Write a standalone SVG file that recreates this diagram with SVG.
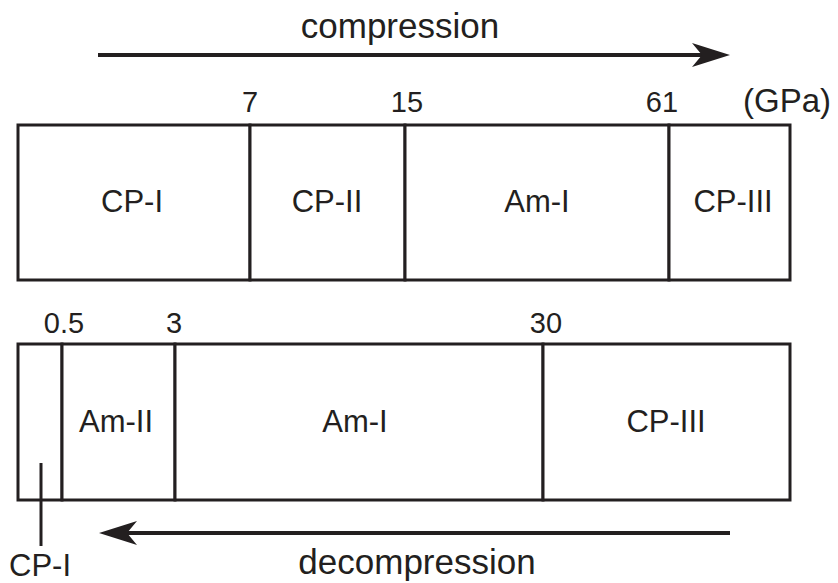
<svg xmlns="http://www.w3.org/2000/svg" width="838" height="583" viewBox="0 0 838 583">
<style>
  .cell { fill: #ffffff; stroke: #231f20; stroke-width: 3; }
  .lbl { font-family: "Liberation Sans", Arial, sans-serif; font-size: 31px; fill: #231f20; text-anchor: middle; }
  .num { font-family: "Liberation Sans", Arial, sans-serif; font-size: 29px; fill: #231f20; text-anchor: middle; }
  .dir { font-family: "Liberation Sans", Arial, sans-serif; font-size: 35px; fill: #231f20; text-anchor: middle; }
  .arrow { stroke: #231f20; stroke-width: 4; fill: none; }
  .lead { stroke: #231f20; stroke-width: 3; fill: none; }
</style>
<defs>
  <marker id="head" markerUnits="userSpaceOnUse" markerWidth="38" markerHeight="24" viewBox="0 0 38 24" refX="10" refY="12" orient="auto">
    <path d="M0,0 L38,12 L0,24 L10,12 Z" fill="#231f20"/>
  </marker>
</defs>
<rect width="838" height="583" fill="#ffffff"/>

<!-- top row: compression -->
<g id="top-cp1"><rect class="cell" x="18" y="125" width="232" height="155"/><text class="lbl" x="132" y="212">CP-I</text></g>
<g id="top-cp2"><rect class="cell" x="250" y="125" width="155" height="155"/><text class="lbl" x="327" y="212">CP-II</text></g>
<g id="top-am1"><rect class="cell" x="405" y="125" width="264" height="155"/><text class="lbl" x="537" y="212">Am-I</text></g>
<g id="top-cp3"><rect class="cell" x="669" y="125" width="121" height="155"/><text class="lbl" x="733" y="212">CP-III</text></g>

<g id="top-scale">
  <text class="num" x="250" y="112">7</text>
  <text class="num" x="407" y="112">15</text>
  <text class="num" x="662" y="112">61</text>
  <text class="num" x="787" y="112" style="font-size:33px">(GPa)</text>
</g>

<!-- bottom row: decompression -->
<g id="bot-cp1"><rect class="cell" x="18" y="344" width="44" height="156"/></g>
<g id="bot-am2"><rect class="cell" x="62" y="344" width="113" height="156"/><text class="lbl" x="116" y="432">Am-II</text></g>
<g id="bot-am1"><rect class="cell" x="175" y="344" width="368" height="156"/><text class="lbl" x="355" y="432">Am-I</text></g>
<g id="bot-cp3"><rect class="cell" x="543" y="344" width="247" height="156"/><text class="lbl" x="666" y="432">CP-III</text></g>

<g id="bot-scale">
  <text class="num" x="64" y="333">0.5</text>
  <text class="num" x="174" y="333">3</text>
  <text class="num" x="546" y="333">30</text>
</g>

<g id="cp1-callout">
  <text class="lbl" x="40" y="576">CP-I</text>
</g>

<g id="connectors">
  <line class="lead" x1="41" y1="463" x2="41" y2="546"/>
  <line class="arrow" x1="98" y1="55" x2="702" y2="55" marker-end="url(#head)"/>
  <line class="arrow" x1="730" y1="533" x2="127" y2="533" marker-end="url(#head)"/>
</g>

<g id="labels">
  <text class="dir" x="400" y="38">compression</text>
  <text class="dir" x="417" y="574">decompression</text>
</g>
</svg>
